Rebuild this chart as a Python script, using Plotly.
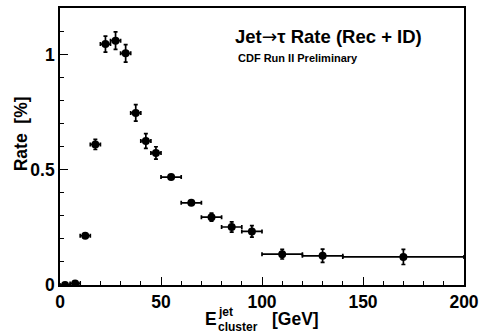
import plotly.graph_objects as go

# Jet -> tau fake rate vs jet cluster energy
e_center = [2.5, 7.5, 12.5, 17.5, 22.5, 27.5, 32.5, 37.5, 42.5, 47.5,
            55, 65, 75, 85, 95, 110, 130, 170]
e_halfwidth = [2.5, 2.5, 2.5, 2.5, 2.5, 2.5, 2.5, 2.5, 2.5, 2.5,
               5, 5, 5, 5, 5, 10, 10, 30]
rate = [0.0, 0.007, 0.214, 0.611, 1.047, 1.062, 1.007, 0.748, 0.626, 0.574,
        0.469, 0.357, 0.295, 0.252, 0.233, 0.134, 0.127, 0.122]
rate_err = [0.003, 0.005, 0.008, 0.022, 0.035, 0.038, 0.038, 0.036, 0.032, 0.027,
            0.006, 0.008, 0.017, 0.022, 0.025, 0.021, 0.029, 0.033]

FONT = "Liberation Sans"

fig = go.Figure()
fig.add_trace(go.Scatter(
    x=e_center, y=rate, mode="markers",
    marker=dict(symbol="circle", size=8, color="black"),
    error_x=dict(type="data", array=e_halfwidth, color="black", thickness=1.7, width=2),
    error_y=dict(type="data", array=rate_err, color="black", thickness=1.7, width=2),
    showlegend=False,
))

L, R, T, B = 60, 19, 6, 48
W, H = 485, 333
pw, ph = W - L - R, H - T - B


def px(xp):
    return (xp - L) / pw


def py(yp):
    return (H - B - yp) / ph


arrow = "<span style='font-family:DejaVu Sans;font-weight:normal'>\u2192</span>"
ann = [
    dict(text="<b>Jet</b>" + arrow + "<b>\u03c4 Rate (Rec + ID)</b>", x=px(234), y=py(35), size=18.5),
    dict(text="<b>CDF Run II Preliminary</b>", x=px(237), y=py(56), size=11),
    dict(text="<b>E</b>", x=px(204), y=py(319), size=17.5),
    dict(text="<b>jet</b>", x=px(217), y=py(312), size=12),
    dict(text="<b>cluster</b>", x=px(217), y=py(327), size=12),
    dict(text="<b>[GeV]</b>", x=px(271), y=py(319), size=17.5),
]
for a in ann:
    fig.add_annotation(text=a["text"], x=a["x"], y=a["y"], xref="paper", yref="paper",
                       xanchor="left", yanchor="middle", showarrow=False,
                       font=dict(family=FONT, size=a["size"], color="black"))

fig.add_annotation(text="<b>Rate  [%]</b>", x=px(21), y=py(133), xref="paper", yref="paper",
                   xanchor="center", yanchor="middle", showarrow=False, textangle=-90,
                   font=dict(family=FONT, size=17.5, color="black"))

axis_common = dict(
    showgrid=False, zeroline=False, showline=True, linecolor="black", linewidth=1.6,
    mirror=True, ticks="inside", tickcolor="black", tickwidth=1.2,
    tickfont=dict(family=FONT, size=17.5, color="black"),
)

fig.update_xaxes(range=[0, 200], tickvals=[0, 50, 100, 150, 200],
                 ticktext=["<b>0</b>", "<b>50</b>", "<b>100</b>", "<b>150</b>", "<b>200</b>"],
                 ticklen=8,
                 minor=dict(dtick=10, tick0=0, ticks="inside", ticklen=4, tickcolor="black", tickwidth=1.2),
                 **axis_common)
fig.update_yaxes(range=[0, 1.204], tickvals=[0, 0.5, 1],
                 ticktext=["<b>0</b>", "<b>0.5</b>", "<b>1</b>"],
                 ticklen=8,
                 minor=dict(dtick=0.1, tick0=0, ticks="inside", ticklen=4, tickcolor="black", tickwidth=1.2),
                 **axis_common)

fig.update_layout(
    width=W, height=H,
    margin=dict(l=L, r=R, t=T, b=B),
    paper_bgcolor="white", plot_bgcolor="white",
    font=dict(family=FONT, color="black"),
)

fig.write_html("out.html")
